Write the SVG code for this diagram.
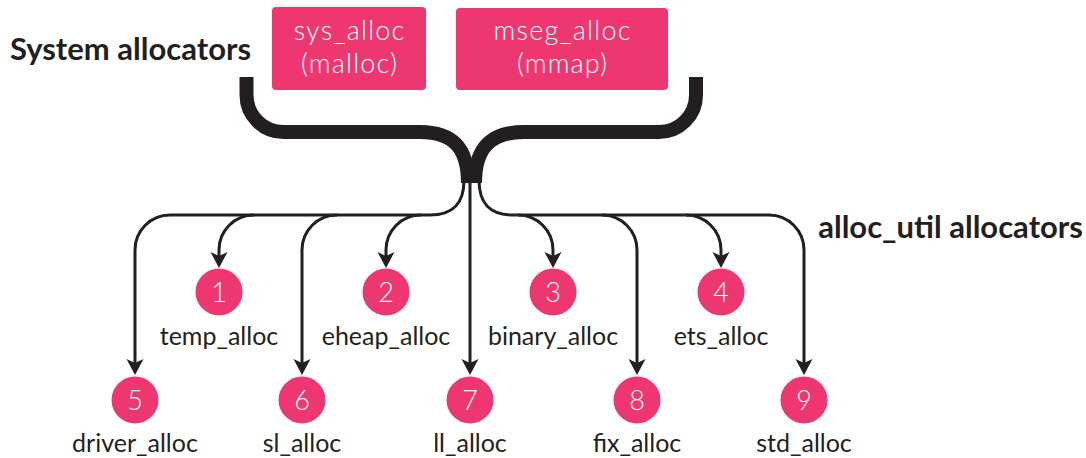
<svg xmlns="http://www.w3.org/2000/svg" width="1086" height="458" viewBox="0 0 1086 458">
<style>
  .box { fill: #EE3771; }
  .dot { fill: #EE3771; }
  .boxtxt { font-family: Lato, "Liberation Sans", sans-serif; font-weight: 300; font-size: 27px; letter-spacing: 1.2px; fill: #ffffff; text-anchor: middle; }
  .num { font-family: Lato, "Liberation Sans", sans-serif; font-weight: 300; font-size: 27px; fill: #ffffff; text-anchor: middle; }
  .lbl { font-family: Lato, "Liberation Sans", sans-serif; font-weight: 400; font-size: 25px; fill: #231F20; text-anchor: middle; }
  .head { font-family: Lato, "Liberation Sans", sans-serif; font-weight: 700; font-size: 31px; fill: #231F20; }
  .brace { fill: none; stroke: #231F20; stroke-width: 14; }
  .line { fill: none; stroke: #231F20; stroke-width: 3; }
</style>
<defs>
  <marker id="arr" markerUnits="userSpaceOnUse" viewBox="0 -10 18 20" markerWidth="18" markerHeight="20" refX="6" refY="0" orient="auto">
    <path d="M0,-8.5 L16,0 L0,8.5 L4,0 Z" fill="#231F20"/>
  </marker>
</defs>
<rect width="1086" height="458" fill="#ffffff"/>

<g id="label-system">
  <text class="head" x="10" y="60">System allocators</text>
</g>
<g id="label-alloc-util">
  <text class="head" x="1083" y="238" style="text-anchor:end">alloc_util allocators</text>
</g>

<g id="sys_alloc">
  <rect class="box" x="272" y="7" width="154" height="83" rx="4"/>
  <text class="boxtxt" x="349.6" y="40">sys_alloc</text>
  <text class="boxtxt" x="349.6" y="73">(malloc)</text>
</g>
<g id="mseg_alloc">
  <rect class="box" x="456" y="8" width="212" height="82" rx="4"/>
  <text class="boxtxt" x="562.6" y="40">mseg_alloc</text>
  <text class="boxtxt" x="562.6" y="73">(mmap)</text>
</g>

<g id="connectors">
  <path class="brace" d="M246.5,77 V95 A37,37 0 0 0 283.5,132 H420 C455,132 468,150 468,183"/>
  <path class="brace" d="M696,77 V95 A37,37 0 0 1 659,132 H524 C489,132 475,150 475,183"/>
  <path class="line" d="M470,178 V365" marker-end="url(#arr)"/>
  <path class="line" d="M464,180 C464,205 452,215 430,215 H170 A35,35 0 0 0 135,250 V365" marker-end="url(#arr)"/>
  <path class="line" d="M479,180 C479,205 491,215 513,215 H769 A35,35 0 0 1 804,250 V365" marker-end="url(#arr)"/>
  <path class="line" d="M254,215 A35,35 0 0 0 219,250 V258" marker-end="url(#arr)"/>
  <path class="line" d="M337,215 A35,35 0 0 0 302,250 V365" marker-end="url(#arr)"/>
  <path class="line" d="M421,215 A35,35 0 0 0 386,250 V258" marker-end="url(#arr)"/>
  <path class="line" d="M518,215 A35,35 0 0 1 553,250 V258" marker-end="url(#arr)"/>
  <path class="line" d="M602,215 A35,35 0 0 1 637,250 V365" marker-end="url(#arr)"/>
  <path class="line" d="M686,215 A35,35 0 0 1 721,250 V258" marker-end="url(#arr)"/>
</g>

<g id="n1">
  <circle class="dot" cx="219" cy="292" r="23.5"/>
  <text class="num" x="219" y="301.5">1</text>
  <text class="lbl" x="219" y="345">temp_alloc</text>
</g>
<g id="n2">
  <circle class="dot" cx="386" cy="292" r="23.5"/>
  <text class="num" x="386" y="301.5">2</text>
  <text class="lbl" x="386" y="345">eheap_alloc</text>
</g>
<g id="n3">
  <circle class="dot" cx="553" cy="292" r="23.5"/>
  <text class="num" x="553" y="301.5">3</text>
  <text class="lbl" x="553" y="345">binary_alloc</text>
</g>
<g id="n4">
  <circle class="dot" cx="721" cy="292" r="23.5"/>
  <text class="num" x="721" y="301.5">4</text>
  <text class="lbl" x="721" y="345">ets_alloc</text>
</g>
<g id="n5">
  <circle class="dot" cx="135" cy="400" r="23.5"/>
  <text class="num" x="135" y="409.5">5</text>
  <text class="lbl" x="135" y="452">driver_alloc</text>
</g>
<g id="n6">
  <circle class="dot" cx="302" cy="400" r="23.5"/>
  <text class="num" x="302" y="409.5">6</text>
  <text class="lbl" x="302" y="452">sl_alloc</text>
</g>
<g id="n7">
  <circle class="dot" cx="470" cy="400" r="23.5"/>
  <text class="num" x="470" y="409.5">7</text>
  <text class="lbl" x="470" y="452">ll_alloc</text>
</g>
<g id="n8">
  <circle class="dot" cx="637" cy="400" r="23.5"/>
  <text class="num" x="637" y="409.5">8</text>
  <text class="lbl" x="637" y="452">fix_alloc</text>
</g>
<g id="n9">
  <circle class="dot" cx="804" cy="400" r="23.5"/>
  <text class="num" x="804" y="409.5">9</text>
  <text class="lbl" x="804" y="452">std_alloc</text>
</g>
</svg>
